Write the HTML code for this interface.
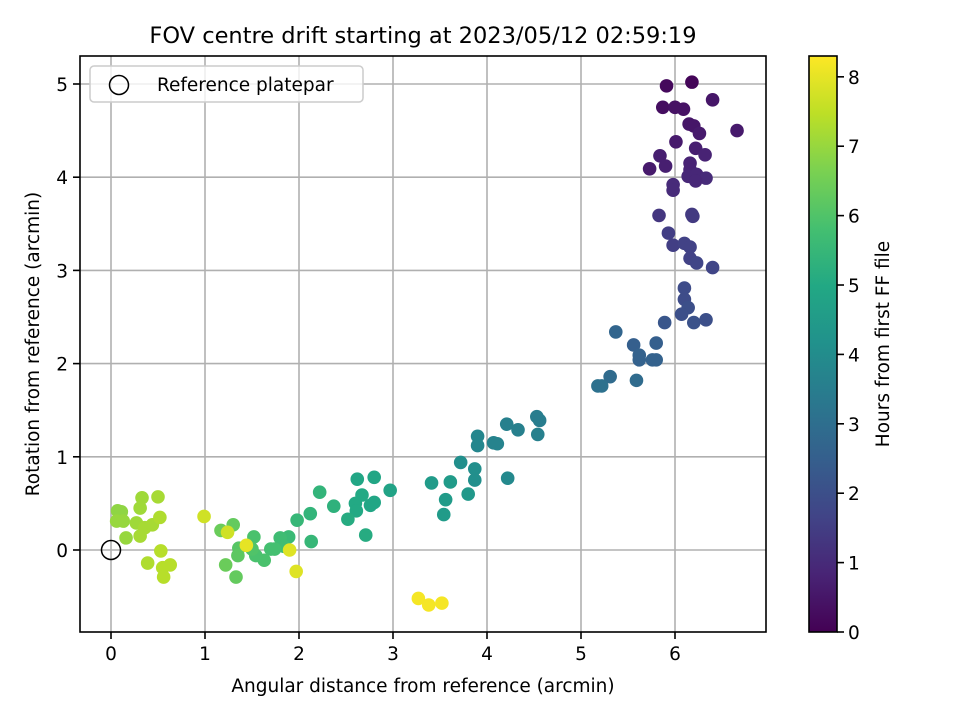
<!DOCTYPE html>
<html><head><meta charset="utf-8"><style>
body{margin:0;background:#fff}
svg{display:block;font-family:"DejaVu Sans","Liberation Sans",sans-serif}
</style></head><body>
<svg id="chart" width="960" height="720" xmlns="http://www.w3.org/2000/svg">
<rect width="960" height="720" fill="#fff"/>
<g id="grid"></g>
<g id="pts"></g>
<rect x="80" y="56" width="686" height="576" fill="none" stroke="#000" stroke-width="1.6"/>
<g id="ticks"></g>
<text x="423" y="43" font-size="22.5" text-anchor="middle">FOV centre drift starting at 2023/05/12 02:59:19</text>
<text x="423" y="692" font-size="18.5" text-anchor="middle">Angular distance from reference (arcmin)</text>
<text transform="translate(39,344) rotate(-90)" font-size="18.5" text-anchor="middle">Rotation from reference (arcmin)</text>
<g>
<rect x="90" y="66" width="273" height="36" rx="4" fill="#fff" fill-opacity="0.8" stroke="#ccc" stroke-width="1.5"/>
<circle cx="119" cy="85" r="9.5" fill="none" stroke="#000" stroke-width="1.5"/>
<text x="157" y="91" font-size="18.5">Reference platepar</text>
</g>
<defs><linearGradient id="vir" x1="0" y1="1" x2="0" y2="0">
<stop offset="0" stop-color="#440154"/><stop offset="0.1" stop-color="#482475"/><stop offset="0.2" stop-color="#414487"/><stop offset="0.3" stop-color="#355f8d"/><stop offset="0.4" stop-color="#2a788e"/><stop offset="0.5" stop-color="#21918c"/><stop offset="0.6" stop-color="#22a884"/><stop offset="0.7" stop-color="#44bf70"/><stop offset="0.8" stop-color="#7ad151"/><stop offset="0.9" stop-color="#bddf26"/><stop offset="1" stop-color="#fde725"/>
</linearGradient></defs>
<rect x="809" y="56" width="28" height="576" fill="url(#vir)" stroke="#000" stroke-width="1.6"/>
<g id="cbticks"></g>
<text transform="translate(889,344) rotate(-90)" font-size="18.5" text-anchor="middle">Hours from first FF file</text>
</svg>
<script>
const xs=[5.91,6.18,5.87,6.0,6.09,6.40,6.66,6.15,6.20,6.26,6.01,6.22,6.32,5.84,5.90,5.73,6.16,6.16,6.14,6.23,6.33,6.22,5.98,5.98,5.83,6.18,6.19,5.93,5.98,6.10,6.16,6.16,6.23,6.40,6.10,6.10,6.14,6.07,6.20,5.89,6.33,5.37,5.80,5.56,5.62,5.62,5.76,5.80,5.31,5.59,5.18,5.22,4.53,4.56,4.54,4.21,4.33,3.90,3.90,4.07,4.11,3.72,3.87,3.87,4.22,3.41,3.61,3.80,3.56,3.54,2.97,2.80,2.62,2.80,2.76,2.67,2.60,2.61,2.52,2.71,2.37,2.22,2.12,1.98,2.13,1.89,1.80,1.84,1.74,1.70,1.63,1.54,1.52,1.50,1.36,1.35,1.30,1.33,1.17,1.22,1.24,0.99,1.44,1.90,1.97,3.27,3.38,3.52,0.07,0.11,0.06,0.13,0.16,0.27,0.33,0.31,0.31,0.36,0.44,0.50,0.52,0.39,0.53,0.55,0.56,0.63];
const ys=[4.98,5.02,4.75,4.75,4.73,4.83,4.50,4.57,4.55,4.47,4.38,4.31,4.24,4.23,4.12,4.09,4.15,4.08,4.01,4.03,3.99,3.96,3.92,3.86,3.59,3.60,3.58,3.40,3.27,3.29,3.25,3.13,3.08,3.03,2.81,2.69,2.60,2.53,2.44,2.44,2.47,2.34,2.22,2.20,2.09,2.04,2.04,2.04,1.86,1.82,1.76,1.76,1.43,1.39,1.24,1.35,1.29,1.22,1.12,1.15,1.14,0.94,0.87,0.75,0.77,0.72,0.73,0.60,0.54,0.38,0.64,0.78,0.76,0.51,0.48,0.59,0.50,0.42,0.33,0.16,0.47,0.62,0.39,0.32,0.09,0.14,0.13,0.04,0.01,0.01,-0.11,-0.06,0.14,0.01,0.02,-0.06,0.27,-0.29,0.21,-0.16,0.19,0.36,0.05,0.00,-0.23,-0.52,-0.59,-0.57,0.42,0.41,0.31,0.31,0.13,0.29,0.56,0.45,0.15,0.24,0.27,0.57,0.35,-0.14,-0.01,-0.19,-0.29,-0.16];
const hours=[0.2,0.1,0.3,0.4,0.4,0.5,0.6,0.5,0.5,0.6,0.6,0.7,0.8,0.7,0.7,0.6,0.8,0.8,0.9,0.9,1.0,0.9,1.0,1.0,1.3,1.4,1.4,1.5,1.5,1.6,1.6,1.6,1.7,1.7,1.9,1.9,2.0,2.0,2.1,2.2,2.0,2.7,2.5,2.5,2.6,2.6,2.6,2.6,2.9,2.9,3.1,3.1,3.5,3.5,3.6,3.6,3.6,3.8,3.8,3.7,3.7,4.1,4.1,4.1,3.9,4.5,4.5,4.4,4.5,4.5,4.8,4.9,4.9,4.9,4.9,5.0,5.0,5.0,5.1,5.1,5.3,5.4,5.4,5.5,5.5,5.6,5.7,5.7,5.8,5.8,5.9,5.9,5.9,6.0,6.1,6.2,6.3,6.3,6.4,6.4,7.7,7.7,8.0,7.9,7.9,8.2,8.2,8.2,6.9,6.9,7.0,7.0,7.0,7.1,7.1,7.1,7.2,7.2,7.2,7.2,7.3,7.3,7.4,7.4,7.4,7.4];
const xTicks=[0,1,2,3,4,5,6];
const yTicks=[0,1,2,3,4,5];
const cTicks=[0,1,2,3,4,5,6,7,8];
const NS="http://www.w3.org/2000/svg";
const X=v=>111+v*94, Y=v=>550-v*93.2, C=v=>632-v*576/8.3;
const stops=["#440154","#482475","#414487","#355f8d","#2a788e","#21918c","#22a884","#44bf70","#7ad151","#bddf26","#fde725"];
function hex(h){return[1,3,5].map(i=>parseInt(h.substr(i,2),16));}
function vir(t){t=Math.max(0,Math.min(1,t))*10;const i=Math.min(9,Math.floor(t)),f=t-i;const a=hex(stops[i]),b=hex(stops[i+1]);return`rgb(${a.map((v,k)=>Math.round(v+(b[k]-v)*f)).join(",")})`;}
function mk(tag,at,par){const e=document.createElementNS(NS,tag);for(const k in at)e.setAttribute(k,at[k]);document.getElementById(par).appendChild(e);return e;}
xTicks.forEach(v=>{
 const g=mk("line",{x1:X(v),x2:X(v),y1:56,y2:632,stroke:"#b0b0b0","stroke-width":1.6},"grid");
 
 
 mk("line",{x1:X(v),x2:X(v),y1:632,y2:639,stroke:"#000","stroke-width":1.6},"ticks");
 const t=mk("text",{x:X(v),y:660,"font-size":18.5,"text-anchor":"middle"},"ticks");t.textContent=v;
 
 
});
yTicks.forEach(v=>{
 const g=mk("line",{x1:80,x2:766,y1:Y(v),y2:Y(v),stroke:"#b0b0b0","stroke-width":1.6},"grid");
 
 
 mk("line",{x1:73,x2:80,y1:Y(v),y2:Y(v),stroke:"#000","stroke-width":1.6},"ticks");
 const t=mk("text",{x:68,y:Y(v)+7,"font-size":18.5,"text-anchor":"end"},"ticks");t.textContent=v;
 
 
});
mk("text",{x:68,y:Y(-0.5)+7,"font-size":18.5,"text-anchor":"end"},"ticks").textContent="\u22120.5".slice(0,0);
cTicks.forEach(v=>{
 mk("line",{x1:837,x2:844,y1:C(v),y2:C(v),stroke:"#000","stroke-width":1.6},"cbticks");
 const t=mk("text",{x:848,y:C(v)+7,"font-size":18.5},"cbticks");t.textContent=v;
 
 
});
xs.forEach((x,i)=>{
 const c=mk("circle",{cx:X(x),cy:Y(ys[i]),r:6.8,fill:vir(hours[i]/8.3)},"pts");
 
 
});
const r=mk("circle",{cx:X(0),cy:Y(0),r:9.5,fill:"none",stroke:"#000","stroke-width":1.5},"pts");


</script>
</body></html>
